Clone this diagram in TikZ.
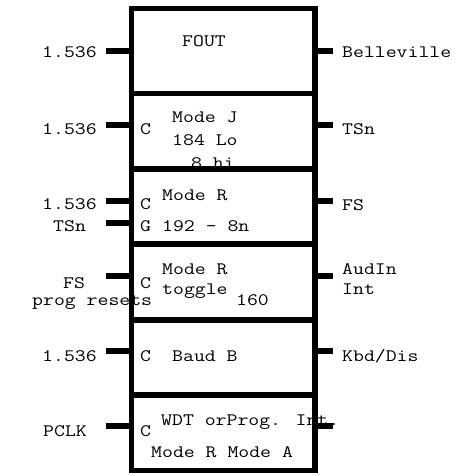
\documentclass[tikz,border=0pt]{standalone}
\usepackage{fontspec}
\newfontfamily\courfont[FakeStretch=1.21]{Latin Modern Mono}
\usetikzlibrary{positioning}

\tikzset{
  blk/.style={draw, line width=5.5pt, minimum width=183.5pt, inner sep=0pt, outer sep=0pt},
  lead/.style={line width=6pt},
  lbl/.style={anchor=base west, inner sep=0pt, font=\courfont\fontsize{17.5}{22}\selectfont},
}

\begin{document}
\begin{tikzpicture}[x=1pt,y=-1pt]
\useasboundingbox (0,0) rectangle (458,476);

% left labels
\node[lbl] (la1) at (42,58) {1.536};
\node[lbl] (la2) at (42,135) {1.536};
\node[lbl] (la3) at (42,209.5) {1.536};
\node[lbl] (la4) at (53,231) {TSn};
\node[lbl] (la5) at (63,288) {FS};
\node[lbl] (la6) at (32,305) {prog resets};
\node[lbl] (la7) at (42,361) {1.536};
\node[lbl] (la8) at (43,436) {PCLK};

% right labels
\node[lbl] (ra1) at (342,58) {Belleville};
\node[lbl] (ra2) at (342,135) {TSn};
\node[lbl] (ra3) at (342,210) {FS};
\node[lbl] (ra4) at (342,274) {AudIn};
\node[lbl] (ra5) at (342,294) {Int};
\node[lbl] (ra6) at (342,361) {Kbd/Dis};

% text in the blocks
\node[lbl] (f1) at (182,47) {FOUT};

\node[lbl] (c2) at (140,135) {C};
\node[lbl] (t2a) at (172,123) {Mode J};
\node[lbl] (t2b) at (172,146) {184 Lo};
\node[lbl] (t2c) at (191,168) {8 hi};

\node[lbl] (c3) at (140,209.5) {C};
\node[lbl] (g3) at (140,231) {G};
\node[lbl] (t3a) at (162,200) {Mode R};
\node[lbl] (t3b) at (162,231) {192 - 8n};

\node[lbl] (c4) at (140,288) {C};
\node[lbl] (t4a) at (162,274) {Mode R};
\node[lbl] (t4b) at (162,294) {toggle};
\node[lbl] (t4c) at (236,305) {160};

\node[lbl] (c5) at (140,361) {C};
\node[lbl] (t5) at (172,361) {Baud B};

\node[lbl] (c6) at (140,436) {C};
\node[lbl] (t6a) at (161,425) {WDT orProg. Int.};
\node[lbl] (t6b) at (151,457) {Mode R Mode A};

% blocks
\node[blk, minimum height=85pt] (r1) at (223.25,51) {};
\node[blk, minimum height=75.5pt, below=0pt of r1] (r2) {};
\node[blk, minimum height=75pt, below=0pt of r2] (r3) {};
\node[blk, minimum height=76pt, below=0pt of r3] (r4) {};
\node[blk, minimum height=75pt, below=0pt of r4] (r5) {};
\node[blk, minimum height=75.5pt, below=0pt of r5] (r6) {};

% lead ends
\coordinate (e1) at (106,51.5);
\coordinate (e2) at (106,125);
\coordinate (e3) at (106,201);
\coordinate (e4) at (106,222.5);
\coordinate (e5) at (106,276);
\coordinate (e6) at (106,350.5);
\coordinate (e7) at (106,426);

\coordinate (w1) at (333,51.5);
\coordinate (w2) at (333,125);
\coordinate (w3) at (333,201);
\coordinate (w4) at (333,276);
\coordinate (w5) at (333,350.5);
\coordinate (w6) at (333,426);

% leads
\draw[lead] (e1) -- (e1 -| r1.west);
\draw[lead] (e2) -- (e2 -| r2.west);
\draw[lead] (e3) -- (e3 -| r3.west);
\draw[lead] (e4) -- (e4 -| r3.west);
\draw[lead] (e5) -- (e5 -| r4.west);
\draw[lead] (e6) -- (e6 -| r5.west);
\draw[lead] (e7) -- (e7 -| r6.west);

\draw[lead] (r1.east |- w1) -- (w1);
\draw[lead] (r2.east |- w2) -- (w2);
\draw[lead] (r3.east |- w3) -- (w3);
\draw[lead] (r4.east |- w4) -- (w4);
\draw[lead] (r5.east |- w5) -- (w5);
\draw[lead] (r6.east |- w6) -- (w6);
\end{tikzpicture}
\end{document}
